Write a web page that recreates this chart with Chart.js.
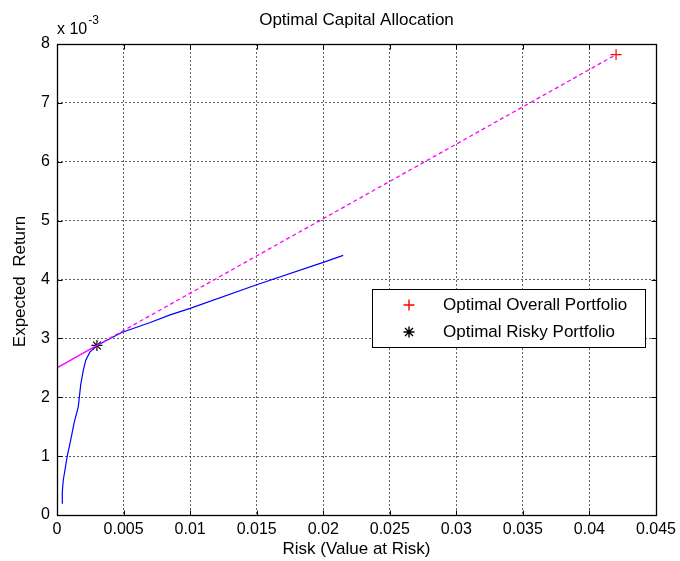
<!DOCTYPE html>
<html>
<head>
<meta charset="utf-8">
<title>Optimal Capital Allocation</title>
<script src="https://cdn.jsdelivr.net/npm/chart.js@4.4.1/dist/chart.umd.min.js"></script>
<style>
  html, body { margin: 0; padding: 0; background: #fff; }
  canvas { display: block; }
</style>
</head>
<body>
<canvas id="chart" width="680" height="561"></canvas>
<script>
const FONT = "'Liberation Sans', Arial, Helvetica, sans-serif";

// Efficient frontier: risk (value at risk) and expected return
const frontierRisk   = [0.0004, 0.0004, 0.00047, 0.00077, 0.00103, 0.00128, 0.0016, 0.00178, 0.00198, 0.00216, 0.00248, 0.0030, 0.00486, 0.0070, 0.0085, 0.0100, 0.0150, 0.0200, 0.0215];
const frontierReturn = [0.00019, 0.0004, 0.00059, 0.0010, 0.00127, 0.00156, 0.00184, 0.00221, 0.00246, 0.00263, 0.00277, 0.00288, 0.0031, 0.00327, 0.0034, 0.00351, 0.00391, 0.00429, 0.00441];

// Capital allocation line: risk-free point, risky portfolio, overall portfolio
const calRisk   = [0, 0.0030, 0.0420];
const calReturn = [0.0025, 0.00288, 0.00782];

// Highlighted portfolios
const overallRisk = [0.0420];
const overallReturn = [0.00782];
const riskyRisk = [0.0030];
const riskyReturn = [0.00288];

// Axis tick labels (returns shown in units of 10^-3)
const xTickLabels = ['0', '0.005', '0.01', '0.015', '0.02', '0.025', '0.03', '0.035', '0.04', '0.045'];
const yTickLabels = ['0', '1', '2', '3', '4', '5', '6', '7', '8'];

const chartTitle = 'Optimal Capital Allocation';
const xAxisTitle = 'Risk (Value at Risk)';
const yAxisTitle = 'Expected  Return';
const yExponentBase = 'x 10';
const yExponentPower = '-3';

const OVERALL_COLOR = 'rgb(255, 0, 0)';
const RISKY_COLOR = 'rgb(0, 0, 0)';

const toPoints = (xs, ys) => xs.map((v, i) => ({ x: v, y: ys[i] }));

function drawMarker(ctx, style, cx, cy, r, color) {
  ctx.save();
  ctx.setLineDash([]);
  ctx.strokeStyle = color;
  ctx.lineWidth = 1.4;
  ctx.beginPath();
  ctx.moveTo(cx - r, cy); ctx.lineTo(cx + r, cy);
  ctx.moveTo(cx, cy - r); ctx.lineTo(cx, cy + r);
  if (style === 'star') {
    const d = r * 0.72;
    ctx.moveTo(cx - d, cy - d); ctx.lineTo(cx + d, cy + d);
    ctx.moveTo(cx - d, cy + d); ctx.lineTo(cx + d, cy - d);
  }
  ctx.stroke();
  ctx.restore();
}

const legendItems = [
  { label: 'Optimal Overall Portfolio', style: 'cross', color: OVERALL_COLOR },
  { label: 'Optimal Risky Portfolio', style: 'star', color: RISKY_COLOR }
];

// Box, inward tick marks, titles and legend
const framePlugin = {
  id: 'frame',
  afterDraw(chart) {
    const { ctx, chartArea: a, scales: { x, y } } = chart;
    ctx.save();
    const L = Math.round(a.left) + 0.5, R = Math.round(a.right) + 0.5;
    const T = Math.round(a.top) + 0.5, B = Math.round(a.bottom) + 0.5;
    ctx.strokeStyle = '#000';
    ctx.lineWidth = 1.3;
    ctx.strokeRect(L, T, R - L, B - T);

    const tl = 5;
    ctx.lineWidth = 1;
    ctx.beginPath();
    x.ticks.forEach(t => {
      const px = Math.round(x.getPixelForValue(t.value)) + 0.5;
      ctx.moveTo(px, B); ctx.lineTo(px, B - tl);
      ctx.moveTo(px, T); ctx.lineTo(px, T + tl);
    });
    y.ticks.forEach(t => {
      const py = Math.round(y.getPixelForValue(t.value)) + 0.5;
      ctx.moveTo(L, py); ctx.lineTo(L + tl, py);
      ctx.moveTo(R, py); ctx.lineTo(R - tl, py);
    });
    ctx.stroke();

    const cx = (a.left + a.right) / 2;
    const cy = (a.top + a.bottom) / 2;
    ctx.fillStyle = '#000';
    ctx.textAlign = 'center';
    ctx.textBaseline = 'middle';
    ctx.font = '17px ' + FONT;
    ctx.fillText(chartTitle, cx, 20);
    ctx.fillText(xAxisTitle, cx, 549);

    ctx.save();
    ctx.translate(20, cy + 2);
    ctx.rotate(-Math.PI / 2);
    ctx.fillText(yAxisTitle, 0, 0);
    ctx.restore();

    // exponent of the return axis
    ctx.textAlign = 'left';
    ctx.textBaseline = 'alphabetic';
    ctx.font = '16px ' + FONT;
    ctx.fillText(yExponentBase, a.left, 34);
    const w = ctx.measureText(yExponentBase).width;
    ctx.font = '12px ' + FONT;
    ctx.fillText(yExponentPower, a.left + w + 1, 24);

    // legend
    const box = { left: 372, top: 289, right: 645, bottom: 347 };
    ctx.fillStyle = '#fff';
    ctx.fillRect(box.left, box.top, box.right - box.left, box.bottom - box.top);
    ctx.strokeStyle = '#000';
    ctx.lineWidth = 1;
    ctx.strokeRect(box.left + 0.5, box.top + 0.5, box.right - box.left, box.bottom - box.top);
    ctx.font = '17px ' + FONT;
    ctx.textBaseline = 'middle';
    legendItems.forEach((it, i) => {
      const rowY = 305 + i * 27;
      drawMarker(ctx, it.style, 409, rowY, 5.5, it.color);
      ctx.fillStyle = '#000';
      ctx.fillText(it.label, 443, rowY);
    });
    ctx.restore();
  }
};

const gridColor = 'rgba(0,0,0,0.62)';

new Chart(document.getElementById('chart'), {
  type: 'scatter',
  data: {
    datasets: [
      {
        label: 'Capital Allocation Line',
        data: toPoints(calRisk, calReturn),
        showLine: true,
        borderColor: '#ff00ff',
        borderWidth: 1.3,
        pointRadius: 0,
        segment: {
          borderDash: c => (c.p0DataIndex >= 1 ? [4, 3] : undefined)
        }
      },
      {
        label: 'Efficient Frontier',
        data: toPoints(frontierRisk, frontierReturn),
        showLine: true,
        borderColor: '#0000ff',
        borderWidth: 1.2,
        pointRadius: 0
      },
      {
        label: legendItems[0].label,
        data: toPoints(overallRisk, overallReturn),
        pointStyle: 'cross',
        pointRadius: 5.5,
        pointBorderColor: OVERALL_COLOR,
        pointBackgroundColor: OVERALL_COLOR,
        pointBorderWidth: 1.2
      },
      {
        label: legendItems[1].label,
        data: toPoints(riskyRisk, riskyReturn),
        pointStyle: 'star',
        pointRadius: 5.5,
        pointBorderColor: RISKY_COLOR,
        pointBackgroundColor: RISKY_COLOR,
        pointBorderWidth: 1.2
      }
    ]
  },
  options: {
    responsive: false,
    animation: false,
    devicePixelRatio: 1,
    layout: { padding: { top: 44, right: 24, left: 0, bottom: 0 } },
    plugins: {
      legend: { display: false },
      title: { display: false },
      tooltip: { enabled: false }
    },
    scales: {
      x: {
        type: 'linear',
        min: 0,
        max: 0.045,
        ticks: {
          stepSize: 0.005,
          autoSkip: false,
          maxRotation: 0,
          padding: 5,
          color: '#000',
          font: { family: FONT, size: 16 },
          callback: (v, i) => xTickLabels[i]
        },
        grid: { color: gridColor, lineWidth: 1, drawTicks: false },
        border: { display: false, dash: [2, 2] },
        afterFit: s => { s.height = 46; s.paddingLeft = 0; s.paddingRight = 0; }
      },
      y: {
        type: 'linear',
        min: 0,
        max: 0.008,
        ticks: {
          stepSize: 0.001,
          padding: 7,
          color: '#000',
          font: { family: FONT, size: 16 },
          callback: (v) => yTickLabels[Math.round(v * 1000)]
        },
        grid: { color: gridColor, lineWidth: 1, drawTicks: false },
        border: { display: false, dash: [2, 2] },
        afterFit: s => { s.width = 57; s.paddingTop = 0; s.paddingBottom = 0; }
      }
    }
  },
  plugins: [framePlugin]
});
</script>
</body>
</html>
